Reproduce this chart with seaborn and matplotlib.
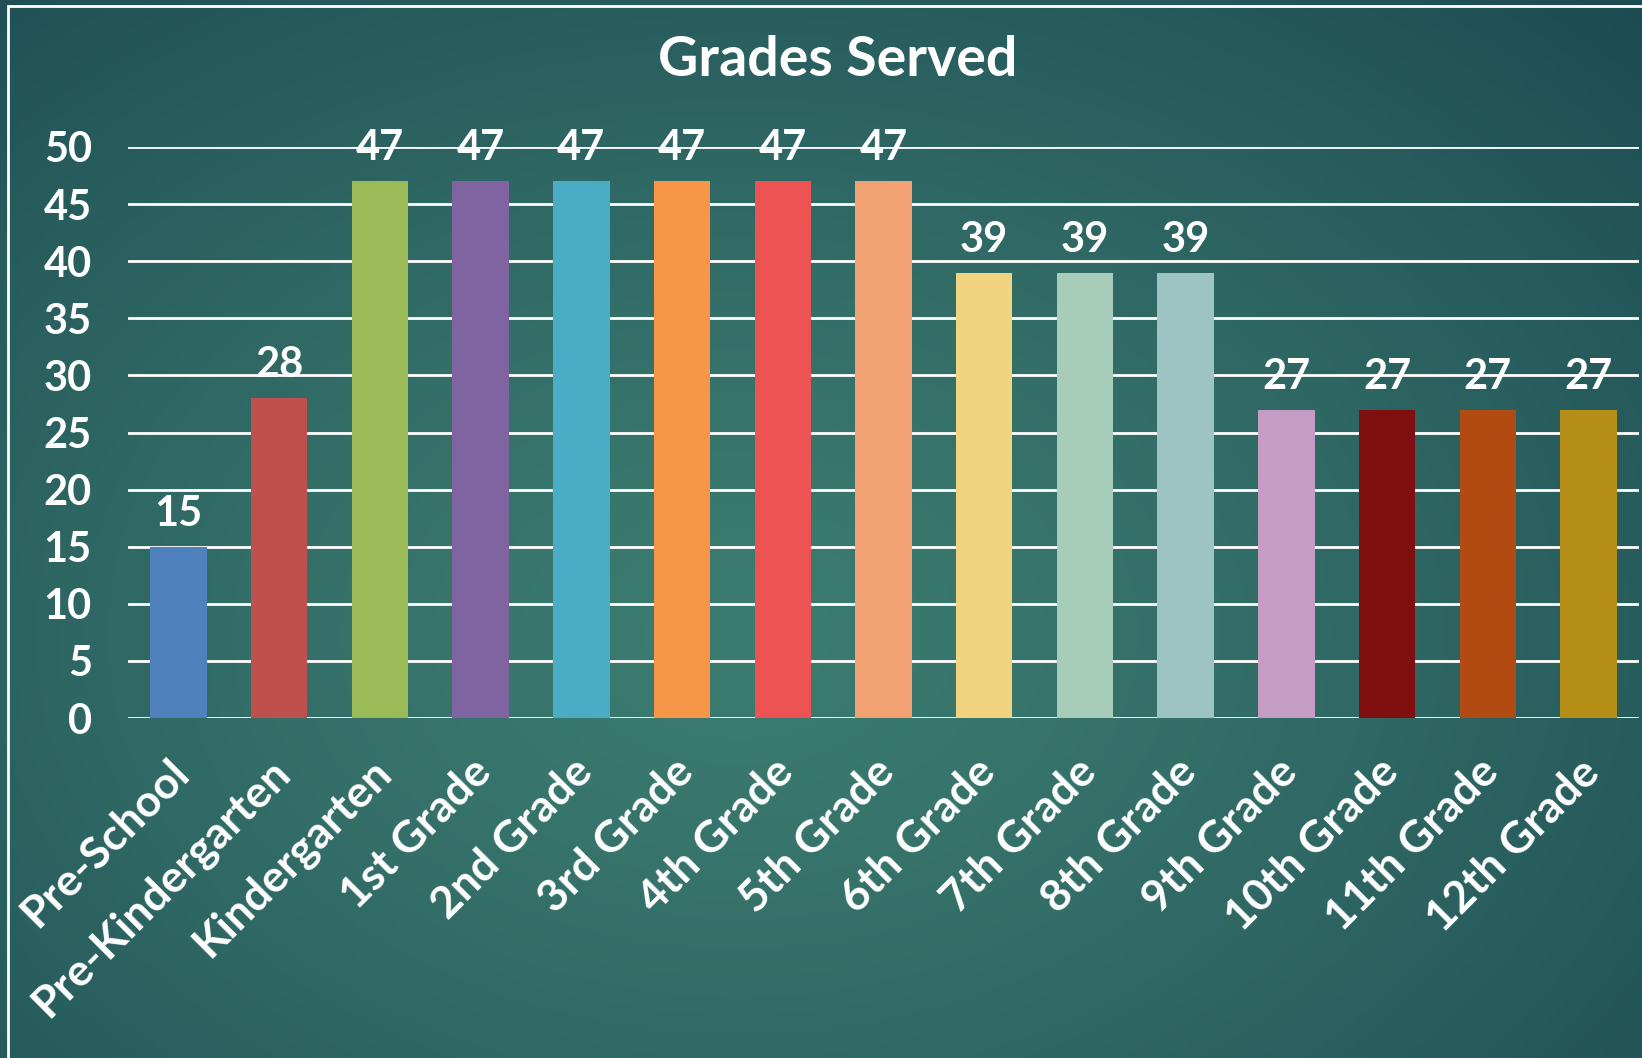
import numpy as np
import pandas as pd
import matplotlib.pyplot as plt
import matplotlib.transforms as mtrans
import seaborn as sns
from matplotlib.patches import Rectangle

grades = ['Pre-School', 'Pre-Kindergarten', 'Kindergarten', '1st Grade',
          '2nd Grade', '3rd Grade', '4th Grade', '5th Grade', '6th Grade',
          '7th Grade', '8th Grade', '9th Grade', '10th Grade', '11th Grade',
          '12th Grade']
counts = [15, 28, 47, 47, 47, 47, 47, 47, 39, 39, 39, 27, 27, 27, 27]
bar_colors = ['#4f81bd', '#c0504d', '#9bbb59', '#8064a2', '#4bacc6',
              '#f79646', '#ee5353', '#f2a173', '#f0d480', '#a7cdba',
              '#9dc3c3', '#c59dc4', '#800f0f', '#b14b12', '#b68f19']

df = pd.DataFrame({'Grade': grades, 'Count': counts})

sns.set_style('white')
plt.rcParams['font.family'] = ['Lato', 'DejaVu Sans']

fig = plt.figure(figsize=(16.42, 10.58), dpi=100)

# radial teal background, lightest a bit below the middle
bg = fig.add_axes([0, 0, 1, 1], zorder=-10)
yy, xx = np.mgrid[0:1:300j, 0:1:460j]
r = np.sqrt(((xx - 0.45) * 1.0) ** 2 + ((yy - 0.6) * 0.9) ** 2)
r = np.clip(r / 0.78, 0, 1) ** 1.3
c_in = np.array([0x3c, 0x7c, 0x70]) / 255
c_out = np.array([0x1c, 0x4a, 0x52]) / 255
img = c_in[None, None, :] * (1 - r[..., None]) + c_out[None, None, :] * r[..., None]
bg.imshow(img, extent=[0, 1, 0, 1], aspect='auto', origin='upper')
bg.axis('off')
fig.patches.append(Rectangle((8 / 1642, -0.1), 1.2, 1.1 - 6 / 1058,
                             transform=fig.transFigure, fill=False,
                             edgecolor='white', linewidth=2))

ax = fig.add_axes([128 / 1642, 1 - 718 / 1058, 1511 / 1642, (718 - 147) / 1058])
ax.patch.set_alpha(0)
sns.barplot(data=df, x='Grade', y='Count', hue='Grade', palette=bar_colors,
            legend=False, width=0.56, ax=ax, zorder=3, saturation=1,
            linewidth=0)
ax.set_ylim(0, 50)
ax.set_xlim(-0.5, len(grades) - 0.5)
ax.set_yticks(range(0, 51, 5))
ax.yaxis.grid(True, color='white', linewidth=2)
ax.set_axisbelow(True)
for s in ax.spines.values():
    s.set_visible(False)
ax.set_xlabel('')
ax.set_ylabel('')
ax.tick_params(axis='y', colors='white', labelsize=30, length=0, pad=26)
ax.tick_params(axis='x', colors='white', labelsize=32, length=0, pad=24)
for lab in ax.get_yticklabels():
    lab.set_fontweight('bold')
ax.set_xticks(range(len(grades)))
ax.set_xticklabels(grades, rotation=45, ha='right', rotation_mode='anchor',
                   fontweight='bold')
shift = mtrans.ScaledTranslation(-10 / 100, 0, fig.dpi_scale_trans)
for lab in ax.get_xticklabels():
    lab.set_transform(lab.get_transform() + shift)

for i, v in enumerate(counts):
    ax.annotate(str(v), (i, v), xytext=(0, 10), textcoords='offset points',
                ha='center', va='bottom', color='white', fontsize=30,
                fontweight='bold', clip_on=False)

fig.text(838 / 1642, 1 - 60 / 1058, 'Grades Served', color='white',
         fontsize=40, fontweight='bold', ha='center', va='center')

fig.savefig('out.png', dpi=100)
